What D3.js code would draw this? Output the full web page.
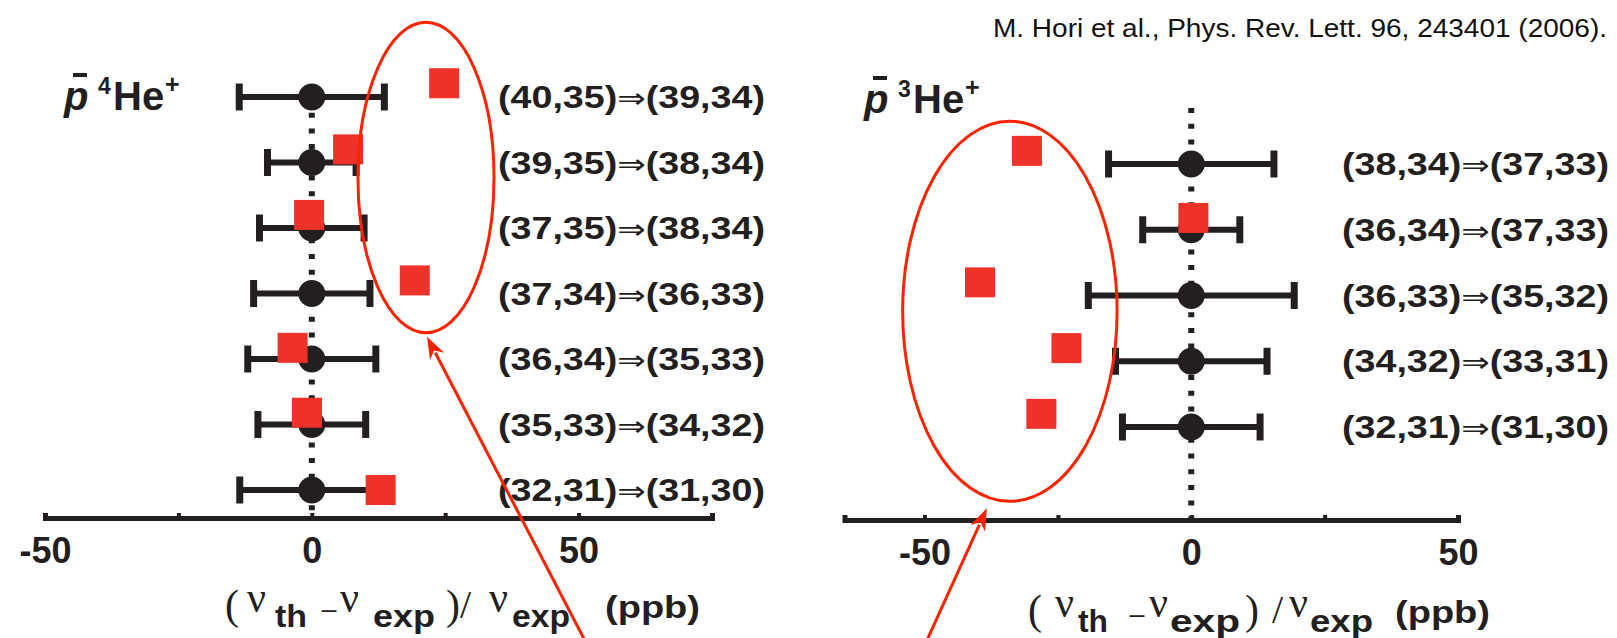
<!DOCTYPE html>
<html>
<head>
<meta charset="utf-8">
<script src="https://cdn.jsdelivr.net/npm/d3@7/dist/d3.min.js"></script>
<style>
  body { margin: 0; background: #fff; }
  svg { display: block; }
</style>
</head>
<body>
<div class="chart"></div>
<script>
// ---- data: antiprotonic helium, (nu_th - nu_exp)/nu_exp in ppb ----
// p-bar 4He+ (left panel), top row first
const he4Labels = ["(40,35)⇒(39,34)", "(39,35)⇒(38,34)", "(37,35)⇒(38,34)", "(37,34)⇒(36,33)",
                   "(36,34)⇒(35,33)", "(35,33)⇒(34,32)", "(32,31)⇒(31,30)"];
const he4Exp    = [0, 0, 0, 0, 0, 0, 0];
const he4Err    = [13.6, 8.3, 9.8, 10.9, 12.0, 10.1, 13.5];
const he4Theory = [24.8, 6.8, -0.5, 19.3, -3.6, -0.9, 12.9];
// theory squares sit a bit above their row (in row units)
const he4Lift   = [0.21, 0.2, 0.2, 0.2, 0.17, 0.18, 0];

// p-bar 3He+ (right panel)
const he3Labels = ["(38,34)⇒(37,33)", "(36,34)⇒(37,33)", "(36,33)⇒(35,32)",
                   "(34,32)⇒(33,31)", "(32,31)⇒(31,30)"];
const he3Exp    = [0, 0, 0, 0, 0];
const he3Err    = [15.5, 9.1, 19.3, 14.2, 12.9];
const he3Theory = [-30.8, 0.4, -39.6, -23.4, -28.1];
const he3Lift   = [0.2, 0.18, 0.2, 0.2, 0.2];

const ticksLeft   = [-50, -25, 0, 25, 50, 75];
const ticksRight  = [-50, -25, 0, 25, 50];
const tickLabels  = [-50, 0, 50];
const citation = "M. Hori et al., Phys. Rev. Lett. 96, 243401 (2006).";

// ---- layout ----
const W = 1617, H = 638;
const INK = "#231f20", SQ = "#ee3129", NOTE = "#ff2200";
const SANS = "'Liberation Sans', Arial, Helvetica, sans-serif";
const SERIF = "'Liberation Serif', 'Times New Roman', serif";

const svg = d3.select(".chart").append("svg").attr("width", W).attr("height", H);

svg.append("text")
  .attr("x", 1607).attr("y", 37)
  .attr("text-anchor", "end")
  .attr("font-family", SANS).attr("font-size", 25)
  .attr("fill", "#111")
  .attr("textLength", 614).attr("lengthAdjust", "spacingAndGlyphs")
  .text(citation);

function drawPanel(p) {
  const g = svg.append("g");
  const x = p.x, y = p.y;

  // dotted zero line
  g.append("line")
    .attr("x1", x(0)).attr("x2", x(0))
    .attr("y1", y(p.dotFrom)).attr("y2", p.axisY)
    .attr("stroke", INK).attr("stroke-width", 6)
    .attr("stroke-dasharray", "5 10.7");

  // x axis
  const axis = d3.axisBottom(x)
    .tickValues(p.ticks)
    .tickSizeInner(-5).tickSizeOuter(-5)
    .tickPadding(19)
    .tickFormat(d => tickLabels.includes(d) ? d : "");
  const ax = g.append("g")
    .attr("transform", `translate(0, ${p.axisY})`)
    .call(axis)
    .attr("font-size", null).attr("font-family", null);
  ax.select(".domain").attr("stroke", INK).attr("stroke-width", 5);
  ax.selectAll(".tick line").attr("stroke", INK).attr("stroke-width", 4);
  ax.selectAll(".tick text")
    .attr("fill", INK)
    .attr("font-family", SANS).attr("font-size", 36).attr("font-weight", "bold");

  const rows = p.labels.map((l, i) => ({ i, label: l, exp: p.exp[i], err: p.err[i], th: p.theory[i], lift: p.lift[i] }));

  // error bars
  const eb = g.append("g").attr("stroke", INK);
  eb.selectAll("line.bar").data(rows).join("line")
    .attr("class", "bar")
    .attr("x1", d => x(d.exp - d.err)).attr("x2", d => x(d.exp + d.err))
    .attr("y1", d => y(d.i)).attr("y2", d => y(d.i))
    .attr("stroke-width", 6);
  eb.selectAll("line.capl").data(rows).join("line")
    .attr("class", "capl")
    .attr("x1", d => x(d.exp - d.err)).attr("x2", d => x(d.exp - d.err))
    .attr("y1", d => y(d.i) - 13.5).attr("y2", d => y(d.i) + 13.5)
    .attr("stroke-width", 7);
  eb.selectAll("line.capr").data(rows).join("line")
    .attr("class", "capr")
    .attr("x1", d => x(d.exp + d.err)).attr("x2", d => x(d.exp + d.err))
    .attr("y1", d => y(d.i) - 13.5).attr("y2", d => y(d.i) + 13.5)
    .attr("stroke-width", 7);

  // experiment points
  g.selectAll("circle.exp").data(rows).join("circle")
    .attr("class", "exp")
    .attr("cx", d => x(d.exp)).attr("cy", d => y(d.i))
    .attr("r", 13.5).attr("fill", INK);

  // theory squares
  g.selectAll("rect.th").data(rows).join("rect")
    .attr("class", "th")
    .attr("x", d => x(d.th) - 15).attr("y", d => y(d.i - d.lift) - 15)
    .attr("width", 30).attr("height", 30)
    .attr("fill", SQ);

  // transition labels (thin double arrow, as in the figure)
  const lbl = g.selectAll("text.lbl").data(rows).join("text")
    .attr("class", "lbl")
    .attr("x", p.labelX).attr("y", d => y(d.i) + 11)
    .attr("font-family", SANS).attr("font-size", 31).attr("font-weight", "bold")
    .attr("fill", INK)
    .attr("textLength", 267).attr("lengthAdjust", "spacingAndGlyphs");
  lbl.each(function(d) {
    const [a, b] = d.label.split("⇒");
    const t = d3.select(this);
    t.append("tspan").text(a);
    t.append("tspan").attr("font-weight", "normal").attr("font-family", "'DejaVu Sans', sans-serif")
      .attr("font-size", 28).text("⇒");
    t.append("tspan").text(b);
  });

  // species heading: p-bar ^A He^+
  const h = p.head;
  g.append("text").attr("x", h.x).attr("y", h.base)
    .attr("font-family", SANS).attr("font-size", 40).attr("font-weight", "bold").attr("font-style", "italic")
    .attr("fill", INK).text("p");
  g.append("line").attr("x1", h.x + 9).attr("x2", h.x + 23)
    .attr("y1", h.base - 35).attr("y2", h.base - 35)
    .attr("stroke", INK).attr("stroke-width", 4);
  g.append("text").attr("x", h.x + 34).attr("y", h.base - 16)
    .attr("font-family", SANS).attr("font-size", 23).attr("font-weight", "bold")
    .attr("fill", INK).text(p.mass);
  g.append("text").attr("x", h.x + 49).attr("y", h.base)
    .attr("font-family", SANS).attr("font-size", 40).attr("font-weight", "bold")
    .attr("fill", INK).text("He");
  g.append("text").attr("x", h.x + 101).attr("y", h.base - 17)
    .attr("font-family", SANS).attr("font-size", 25).attr("font-weight", "bold")
    .attr("fill", INK).text("+");

  // axis title pieces
  const t = p.title;
  const pieces = [
    { s: "(",   f: SERIF, z: 42, dx: t.o[0],  dy: -8 },
    { s: "ν",   f: SERIF, z: 44, dx: t.o[1],  dy: -15, w: 19 },
    { s: "th",  f: SANS,  z: 31, dx: t.o[2],  dy: 0, w: t.w[0], b: true },
    { s: "−",   f: SERIF, z: 38, dx: t.o[3],  dy: -3, w: 18 },
    { s: "ν",   f: SERIF, z: 44, dx: t.o[4],  dy: -15, w: 19 },
    { s: "exp", f: SANS,  z: 31, dx: t.o[5],  dy: 0, w: t.w[1], b: true },
    { s: ")",   f: SERIF, z: 42, dx: t.o[6],  dy: -8 },
    { s: "/",   f: SERIF, z: 40, dx: t.o[7],  dy: -9 },
    { s: "ν",   f: SERIF, z: 44, dx: t.o[8],  dy: -15, w: 19 },
    { s: "exp", f: SANS,  z: 31, dx: t.o[9],  dy: 0, w: t.w[2], b: true },
    { s: "(ppb)", f: SANS, z: 32, dx: t.o[10], dy: -9, w: t.w[3], b: true }
  ];
  pieces.forEach(pc => {
    const tx = g.append("text")
      .attr("x", t.x + pc.dx).attr("y", t.base + pc.dy)
      .attr("font-family", pc.f).attr("font-size", pc.z)
      .attr("font-weight", pc.b ? "bold" : "normal")
      .attr("fill", INK).text(pc.s);
    if (pc.w) tx.attr("textLength", pc.w).attr("lengthAdjust", "spacingAndGlyphs");
  });

  // red annotation: ellipse round the theory points plus arrow
  const e = p.ell;
  const cx = x(e.cx), rx = x(e.cx + e.rx) - x(e.cx);
  const cy = y(e.cy), ry = y(e.cy + e.ry) - y(e.cy);
  g.append("ellipse")
    .attr("cx", cx).attr("cy", cy).attr("rx", rx).attr("ry", ry)
    .attr("fill", "none").attr("stroke", NOTE).attr("stroke-width", 3);

  const tip = [cx + p.arrow.tipDx, cy + ry + p.arrow.tipDy];
  const tail = p.arrow.tail;
  const ang = Math.atan2(tip[1] - tail[1], tip[0] - tail[0]);
  const L = 22, Wd = 8;
  const base = [tip[0] - L * Math.cos(ang), tip[1] - L * Math.sin(ang)];
  g.append("line")
    .attr("x1", tail[0]).attr("y1", tail[1])
    .attr("x2", base[0] + 4 * Math.cos(ang)).attr("y2", base[1] + 4 * Math.sin(ang))
    .attr("stroke", NOTE).attr("stroke-width", 3);
  g.append("path")
    .attr("d", d3.line()([
      tip,
      [base[0] + Wd * Math.sin(ang), base[1] - Wd * Math.cos(ang)],
      [tip[0] - 0.7 * L * Math.cos(ang), tip[1] - 0.7 * L * Math.sin(ang)],
      [base[0] - Wd * Math.sin(ang), base[1] + Wd * Math.cos(ang)]
    ]) + "Z")
    .attr("fill", NOTE);
}

// left panel
drawPanel({
  labels: he4Labels, exp: he4Exp, err: he4Err, theory: he4Theory, lift: he4Lift,
  x: d3.scaleLinear().domain([-50, 75]).range([45, 712]),
  y: d3.scaleLinear().domain([0, 6]).range([97, 490]),
  ticks: ticksLeft, axisY: 518, dotFrom: 0,
  labelX: 498, mass: "4",
  head: { x: 64, base: 110 },
  title: { x: 225, base: 627, o: [0, 22, 50, 95, 115, 148, 221, 235, 264, 287, 380],
           w: [32, 62, 58, 95] },
  ell: { cx: 21.4, rx: 12.75, cy: 1.23, ry: 2.37 },
  arrow: { tipDx: 1, tipDy: 4, tail: [595, 660] }
});

// right panel
drawPanel({
  labels: he3Labels, exp: he3Exp, err: he3Err, theory: he3Theory, lift: he3Lift,
  x: d3.scaleLinear().domain([-65, 50]).range([844.5, 1458]),
  y: d3.scaleLinear().domain([0, 4]).range([164, 427]),
  ticks: ticksRight, axisY: 520, dotFrom: -0.85,
  labelX: 1342, mass: "3",
  head: { x: 864, base: 113 },
  title: { x: 1028, base: 632, o: [0, 27, 50, 100, 121, 142, 217, 244, 261, 282, 367],
           w: [30, 70, 63, 95] },
  ell: { cx: -34, rx: 20.1, cy: 2.24, ry: 2.89 },
  arrow: { tipDx: -23, tipDy: 7, tail: [918, 660] }
});
</script>
</body>
</html>
